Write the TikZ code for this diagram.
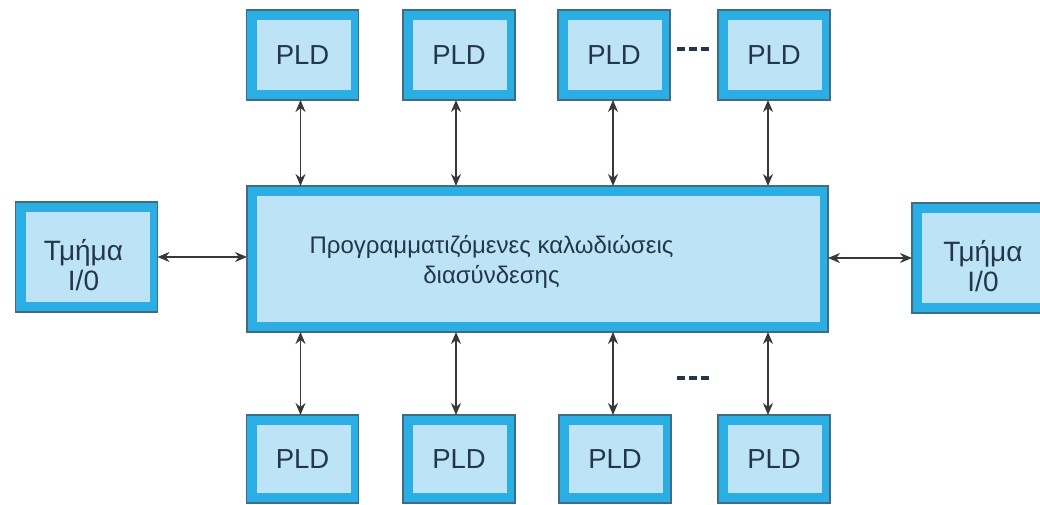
\documentclass[tikz,border=0pt]{standalone}
\usepackage{fontspec}
\setmainfont{Liberation Sans}
\usetikzlibrary{arrows.meta}
\definecolor{bevel}{HTML}{2AAEE4}
\definecolor{face}{HTML}{BDE3F7}
\definecolor{rim}{HTML}{3E6B86}
\definecolor{ink}{HTML}{24364A}
\definecolor{wire}{HTML}{383838}

\begin{document}
\begin{tikzpicture}[x=1pt, y=1pt,
    block/.style = {draw=rim, line width=1.2pt, fill=bevel, inner sep=0pt,
                    outer sep=0pt, text=ink, align=center,
                    path picture={\fill[face]
                      ([shift={(10pt,-10pt)}]path picture bounding box.north west)
                      rectangle
                      ([shift={(-8pt,10pt)}]path picture bounding box.south east);}},
    pld/.style = {block, minimum width=112pt, minimum height=90pt,
                  font=\fontsize{27.5}{30}\selectfont},
    port/.style = {block, minimum width=142pt, minimum height=110pt},
    tag/.style = {text=ink, align=center, inner sep=0pt},
    link/.style = {draw=wire, line width=1.9pt,
                   {Stealth[length=12pt,width=10pt]}-{Stealth[length=12pt,width=10pt]}},
    more/.style = {draw=ink, line width=4.5pt, dash pattern=on 8pt off 4pt}]
    \useasboundingbox (0,0) rectangle (1040,504);
    \clip (0,0) rectangle (1040,504);

    % interconnect in the middle
    \node[block, minimum width=581pt, minimum height=146pt] (core) at (537.5,245) {};
    \node[tag, font=\fontsize{24}{30}\selectfont] (corelabel)
          at ([shift={(-46pt,-3pt)}]core.center)
          {Προγραμματιζόμενες καλωδιώσεις\\διασύνδεσης};

    % I/O blocks
    \node[port] (iol) at (86.5,247) {};
    \node[port] (ior) at (983,246) {};
    \node[tag, font=\fontsize{28}{30}\selectfont] (iollabel)
          at ([shift={(-3pt,-8pt)}]iol.center) {Τμήμα\\I/0};
    \node[tag, font=\fontsize{28}{30}\selectfont] (iorlabel)
          at ([shift={(0pt,-8pt)}]ior.center) {Τμήμα\\I/0};

    % PLD row above
    \node[pld] (t1) at (302.5,449) {PLD};
    \node[pld] (t2) at (459,449) {PLD};
    \node[pld] (t3) at (614,449) {PLD};
    \node[pld] (t4) at (774,449) {PLD};

    % PLD row below
    \node[pld, minimum height=88pt] (b1) at (302.5,45) {PLD};
    \node[pld, minimum height=88pt] (b2) at (459,45) {PLD};
    \node[pld, minimum height=88pt] (b3) at (615,45) {PLD};
    \node[pld, minimum height=88pt] (b4) at (774,45) {PLD};

    \coordinate (mt) at (677,455);
    \coordinate (mb) at (677,126);
    \draw[more] (mt) -- ++(32,0);
    \draw[more] (mb) -- ++(32,0);

    \draw[link] ([xshift=-2pt]t1.south) -- ([xshift=-2pt]t1.south |- core.north);
    \draw[link] ([xshift=-3pt]t2.south) -- ([xshift=-3pt]t2.south |- core.north);
    \draw[link] ([xshift=-1pt]t3.south) -- ([xshift=-1pt]t3.south |- core.north);
    \draw[link] ([xshift=-6pt]t4.south) -- ([xshift=-6pt]t4.south |- core.north);

    \draw[link] ([xshift=-2pt]b1.north) -- ([xshift=-2pt]b1.north |- core.south);
    \draw[link] ([xshift=-3pt]b2.north) -- ([xshift=-3pt]b2.north |- core.south);
    \draw[link] ([xshift=-2pt]b3.north) -- ([xshift=-2pt]b3.north |- core.south);
    \draw[link] ([xshift=-6pt]b4.north) -- ([xshift=-6pt]b4.north |- core.south);

    \draw[link] (iol.east) -- (iol.east -| core.west);
    \draw[link] (ior.west) -- (ior.west -| core.east);
\end{tikzpicture}
\end{document}
